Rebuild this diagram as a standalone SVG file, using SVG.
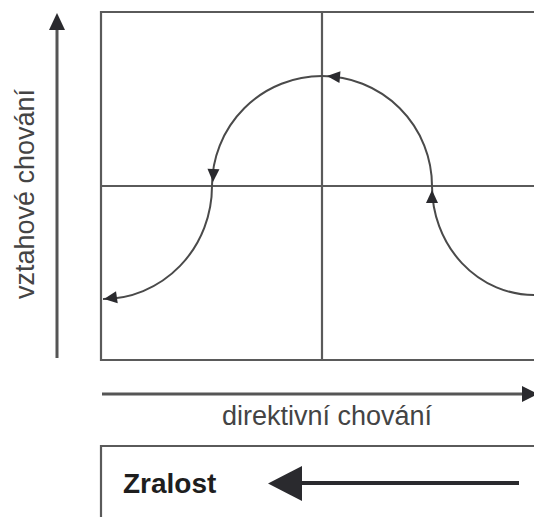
<svg xmlns="http://www.w3.org/2000/svg" width="534" height="517" viewBox="0 0 534 517">
<defs>
<style>
.frame{fill:none;stroke:#5a5a5a;stroke-width:2.2}
.axis{fill:none;stroke:#555;stroke-width:3}
.curve{fill:none;stroke:#4a4a4a;stroke-width:2}
.head{fill:#2a2a2e}
.lbl{font-family:"Liberation Sans",Arial,sans-serif;font-size:27px;fill:#444}
.big{font-family:"Liberation Sans",Arial,sans-serif;font-size:28px;font-weight:bold;fill:#1e1e1e}
</style>
<path id="tri" d="M0,0 L-13,-6 L-13,6 Z"/>
</defs>
<rect width="534" height="517" fill="#fff"/>
<g id="quadrant-box">
<path class="frame" d="M534,12 H101 V360 H534"/>
<line class="frame" x1="322" y1="12" x2="322" y2="360"/>
<line class="frame" x1="101" y1="186" x2="534" y2="186"/>
</g>
<g id="y-axis">
<line class="axis" x1="57" y1="358" x2="57" y2="26"/>
<path class="head" d="M57,13 L49,30 L65,30 Z"/>
<text class="lbl" transform="translate(34,194) rotate(-90)" text-anchor="middle">vztahové chování</text>
</g>
<g id="x-axis">
<line class="axis" x1="102" y1="394" x2="526" y2="394"/>
<path class="head" d="M538,394 L522,386 L522,402 Z"/>
<text class="lbl" x="222" y="425">direktivní chování</text>
</g>
<g id="maturity-box">
<path class="frame" d="M101,517 V446 H534"/>
<text class="big" x="123" y="493">Zralost</text>
<line x1="519" y1="483" x2="298" y2="483" stroke="#2a2a2e" stroke-width="4"/>
<path class="head" d="M268,483.5 L302,466 L302,501 Z"/>
</g>
<g id="connectors">
<path class="curve" d="M534,295 A102 109 0 0 1 432,186 A110 110 0 0 0 212,186 A109 113 0 0 1 103,299"/>
<use href="#tri" class="head" transform="translate(432,190) rotate(-90)"/>
<use href="#tri" class="head" transform="translate(327,76) rotate(185)"/>
<use href="#tri" class="head" transform="translate(213,182) rotate(92)"/>
<use href="#tri" class="head" transform="translate(104,299) rotate(172)"/>
</g>
</svg>
